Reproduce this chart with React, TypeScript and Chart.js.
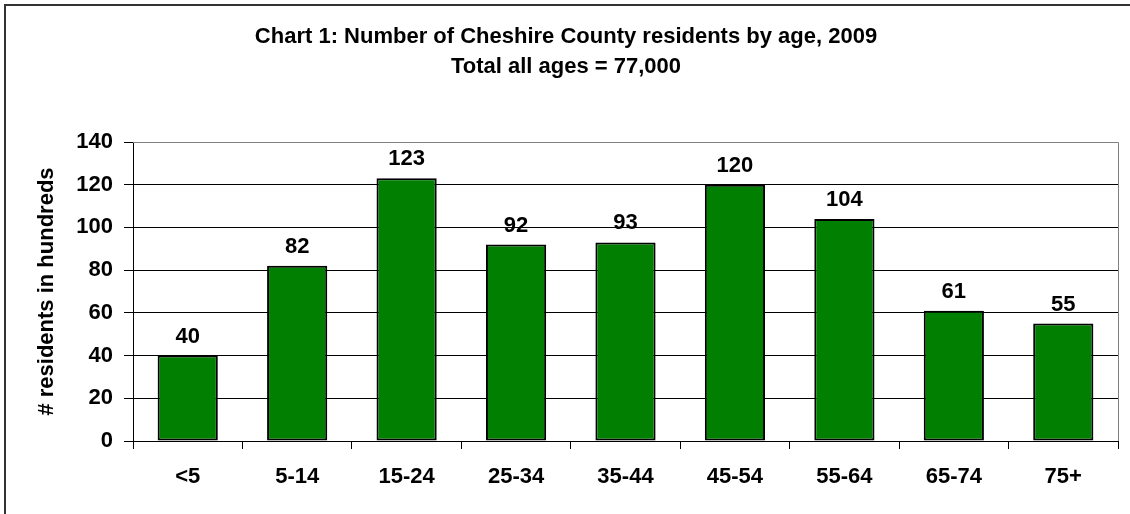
import React, { useEffect, useRef } from "react";
import { Chart, registerables } from "chart.js";

Chart.register(...registerables);

const categories = ["<5", "5-14", "15-24", "25-34", "35-44", "45-54", "55-64", "65-74", "75+"];
const residents = [40, 82, 123, 92, 93, 120, 104, 61, 55];
const yTicks = [0, 20, 40, 60, 80, 100, 120, 140];
const titleLines = ["Chart 1: Number of Cheshire County residents by age, 2009", "Total all ages = 77,000"];
const yTitle = "# residents in hundreds";

const FONT = "'Liberation Sans', Arial, Helvetica, sans-serif";

const framePlugin = {
  id: "frame",
  beforeDraw(chart: any) {
    const ctx = chart.ctx;
    ctx.save();
    ctx.fillStyle = "#ffffff";
    ctx.fillRect(0, 0, chart.width, chart.height);
    ctx.strokeStyle = "#333333";
    ctx.lineWidth = 2;
    ctx.beginPath();
    ctx.moveTo(5, chart.height + 2);
    ctx.lineTo(5, 5);
    ctx.lineTo(chart.width + 2, 5);
    ctx.stroke();
    // titles
    ctx.fillStyle = "#000";
    ctx.font = `bold 22px ${FONT}`;
    ctx.textAlign = "center";
    ctx.textBaseline = "alphabetic";
    const cx = chart.width / 2 + 1;
    ctx.fillText(titleLines[0], cx, 43);
    ctx.fillText(titleLines[1], cx, 73);
    ctx.restore();
  },
  beforeDatasetsDraw(chart: any) {
    const { ctx, chartArea } = chart;
    ctx.save();
    ctx.strokeStyle = "#808080";
    ctx.lineWidth = 1;
    ctx.beginPath();
    ctx.moveTo(chartArea.left, chartArea.top + 0.5);
    ctx.lineTo(chartArea.right + 0.5, chartArea.top + 0.5);
    ctx.lineTo(chartArea.right + 0.5, chartArea.bottom);
    ctx.stroke();
    ctx.restore();
  },
  afterDatasetsDraw(chart: any) {
    const ctx = chart.ctx;
    const meta = chart.getDatasetMeta(0);
    ctx.save();
    ctx.fillStyle = "#000";
    ctx.font = `bold 22px ${FONT}`;
    ctx.textAlign = "center";
    ctx.textBaseline = "alphabetic";
    meta.data.forEach((bar: any, i: number) => {
      ctx.fillText(String(residents[i]), bar.x, bar.y - 13);
    });
    ctx.restore();
  },
};

export default function App() {
  const ref = useRef<HTMLCanvasElement | null>(null);

  useEffect(() => {
    if (!ref.current) return;
    const chart = new Chart(ref.current, {
      type: "bar",
      data: {
        labels: categories,
        datasets: [
          {
            data: residents,
            backgroundColor: "#007F00",
            borderColor: "#000000",
            borderWidth: 2,
            borderSkipped: false,
            barPercentage: 0.55,
            categoryPercentage: 1,
          },
        ],
      },
      options: {
        animation: false,
        responsive: false,
        layout: { padding: { left: 0, right: 12, top: 142, bottom: 0 } },
        plugins: {
          legend: { display: false },
          title: { display: false },
          tooltip: { enabled: false },
        },
        scales: {
          x: {
            afterFit(scale: any) {
              scale.height = 73;
            },
            grid: {
              display: true,
              drawOnChartArea: false,
              drawTicks: true,
              tickLength: 8,
              tickColor: "#000",
              offset: true,
            },
            border: { display: true, color: "#000", width: 1 },
            ticks: {
              color: "#000",
              padding: 15,
              maxRotation: 0,
              autoSkip: false,
              font: { family: FONT, size: 22, weight: "bold" },
            },
          },
          y: {
            min: 0,
            max: 140,
            afterFit(scale: any) {
              scale.width = 133;
            },
            afterBuildTicks(scale: any) {
              scale.ticks = yTicks.map((v) => ({ value: v }));
            },
            grid: {
              color: (c: any) => (c.tick && c.tick.value === 140 ? "#808080" : "#000000"),
              lineWidth: 1,
              drawTicks: true,
              tickLength: 9,
              tickColor: "#000",
            },
            border: { display: true, color: "#000", width: 1 },
            ticks: {
              color: "#000",
              padding: 11,
              font: { family: FONT, size: 22, weight: "bold" },
            },
            title: {
              display: true,
              text: yTitle,
              color: "#000",
              padding: { top: 34, bottom: 0 },
              font: { family: FONT, size: 22, weight: "bold" },
            },
          },
        },
      },
      plugins: [framePlugin],
    } as any);
    return () => chart.destroy();
  }, []);

  return (
    <div style={{ position: "absolute", left: 0, top: 0, width: 1130, height: 514, background: "#fff" }}>
      <canvas ref={ref} width={1130} height={514} style={{ display: "block", width: 1130, height: 514 }} />
    </div>
  );
}
